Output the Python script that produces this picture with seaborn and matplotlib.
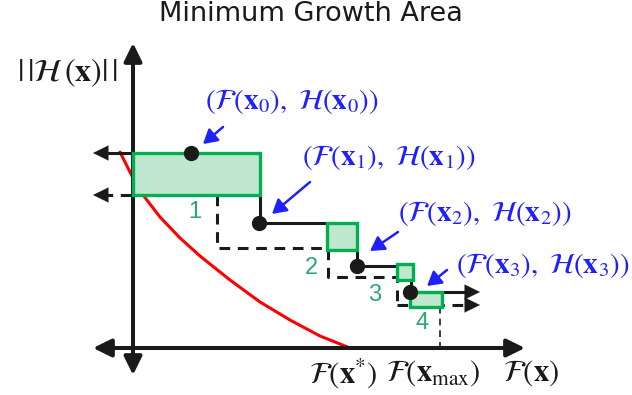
import matplotlib
matplotlib.use("Agg")
import matplotlib.pyplot as plt
import seaborn as sns
import pandas as pd
from matplotlib.patches import Rectangle

# ---- diagram content (pixel-space coordinates, y grows downward) ----
# lower bound curve ||H|| vs F
curve_x = [120, 130, 140, 160, 180, 200, 230, 260, 290, 320, 350]
curve_y = [152, 172, 191, 217, 238, 256, 280, 302, 320, 336, 348]

# growth-area boxes: (left, top, right, bottom)
box_left = [133, 327, 397, 410]
box_top = [153, 223, 264, 292]
box_right = [260, 357, 413, 442]
box_bottom = [195, 250, 280, 307]
box_names = ["1", "2", "3", "4"]
box_name_x = [195, 311, 375, 422]
box_name_y = [212, 268, 295, 323]

# iterate points (F(x_k), H(x_k))
pt_x = [191, 259, 357, 410]
pt_y = [153, 223, 266, 292]
pt_labels = [
    r"$\left(\mathcal{F}(\mathbf{x}_0),\ \mathcal{H}(\mathbf{x}_0)\right)$",
    r"$\left(\mathcal{F}(\mathbf{x}_1),\ \mathcal{H}(\mathbf{x}_1)\right)$",
    r"$\left(\mathcal{F}(\mathbf{x}_2),\ \mathcal{H}(\mathbf{x}_2)\right)$",
    r"$\left(\mathcal{F}(\mathbf{x}_3),\ \mathcal{H}(\mathbf{x}_3)\right)$",
]
label_x = [205, 302, 398, 456]
label_y = [102, 157, 213, 266]
arrow_from = [(223, 127), (310, 182), (398, 232), (447, 270)]
arrow_to = [(203, 144), (272, 214), (370, 251), (427, 286)]

axis_labels = [r"$\mathcal{F}(\mathbf{x}^{*})$",
               r"$\mathcal{F}(\mathbf{x}_{\max})$",
               r"$\mathcal{F}(\mathbf{x})$"]
axis_label_x = [343, 433, 531]

GREEN_EDGE = "#00b050"
GREEN_FILL = "#bfe6cf"
NUM_COLOR = "#2aa876"
BLUE = "#2020ff"
DASH = (0, (3.5, 2.5))

sns.set_theme(style="white")
plt.rcParams["mathtext.fontset"] = "stix"
plt.rcParams["font.family"] = ["Liberation Sans", "DejaVu Sans"]

fig = plt.figure(figsize=(6.32, 3.95), dpi=100)
ax = fig.add_axes([0, 0, 1, 1])
ax.set_xlim(0, 632)
ax.set_ylim(395, 0)
ax.axis("off")


def arrow(p_from, p_to, lw=2.9, color="k", style="-|>", hl=0.55, hw=0.27, ms=20):
    ax.annotate("", xy=p_to, xytext=p_from,
                arrowprops=dict(arrowstyle=f"{style},head_length={hl},head_width={hw}",
                                lw=lw, color=color,
                                shrinkA=0, shrinkB=0, mutation_scale=ms))


# coordinate axes with arrows at both ends
arrow((133, 375), (133, 43), style="<|-|>")
arrow((93, 348), (525, 348), style="<|-|>")

# lower bound curve
curve = pd.DataFrame({"F": curve_x, "H": curve_y})
sns.lineplot(data=curve, x="F", y="H", ax=ax, color="#ff0000", lw=2.2, sort=False)

# dashed staircase (lower envelope)
ax.plot([131, 105], [195, 195], color="k", lw=2.2, ls=DASH)
arrow((106, 195), (93, 195), lw=0.1)
ax.plot([217, 217, 328, 328, 397, 397], [195, 248, 248, 277, 277, 305],
        color="k", lw=2.2, ls=DASH, zorder=2)
ax.plot([397, 468], [305, 305], color="k", lw=2.2, ls=DASH, zorder=2)
arrow((466, 305), (480, 305), lw=0.1)
ax.plot([440, 440], [307, 348], color="k", lw=1.2, ls=(0, (4, 3)), zorder=2)

# solid staircase (actual values)
ax.plot([133, 103], [153, 153], color="k", lw=2.2)
arrow((106, 153), (93, 153), lw=0.1)
ax.plot([260, 260, 327], [195, 223, 223], color="k", lw=2.2, zorder=3)
ax.plot([357, 357, 397], [250, 266, 266], color="k", lw=2.2, zorder=3)
ax.plot([411, 411], [280, 292], color="k", lw=2.2, zorder=3)
ax.plot([410, 468], [292, 292], color="k", lw=2.2, zorder=3)
arrow((466, 292), (480, 292), lw=0.1)

# growth-area boxes
for l, t, r, b in zip(box_left, box_top, box_right, box_bottom):
    ax.add_patch(Rectangle((l, t), r - l, b - t, facecolor=GREEN_FILL,
                           edgecolor=GREEN_EDGE, lw=2.4, zorder=4))
for name, x, y in zip(box_names, box_name_x, box_name_y):
    ax.text(x, y, name, color=NUM_COLOR, fontsize=17, ha="center", va="center")

# iterate points
ax.plot(pt_x, pt_y, "o", color="k", ms=10, zorder=5)

for lab, x, y, a, b in zip(pt_labels, label_x, label_y, arrow_from, arrow_to):
    ax.text(x, y, lab, color=BLUE, fontsize=21, ha="left", va="center")
    arrow(a, b, lw=1.8, color=BLUE, hl=0.6, hw=0.35, ms=14)

# axis labels and title
ax.text(67, 73, r"$|\,|\mathcal{H}\,(\mathbf{x})|\,|$", fontsize=23,
        ha="center", va="center", color="k")
for lab, x in zip(axis_labels, axis_label_x):
    ax.text(x, 373, lab, fontsize=22, ha="center", va="center", color="k")
ax.text(311, 14, "Minimum Growth Area", fontsize=19.5, ha="center", va="center",
        family="DejaVu Sans", color="k")

fig.savefig("out.png", dpi=100)
